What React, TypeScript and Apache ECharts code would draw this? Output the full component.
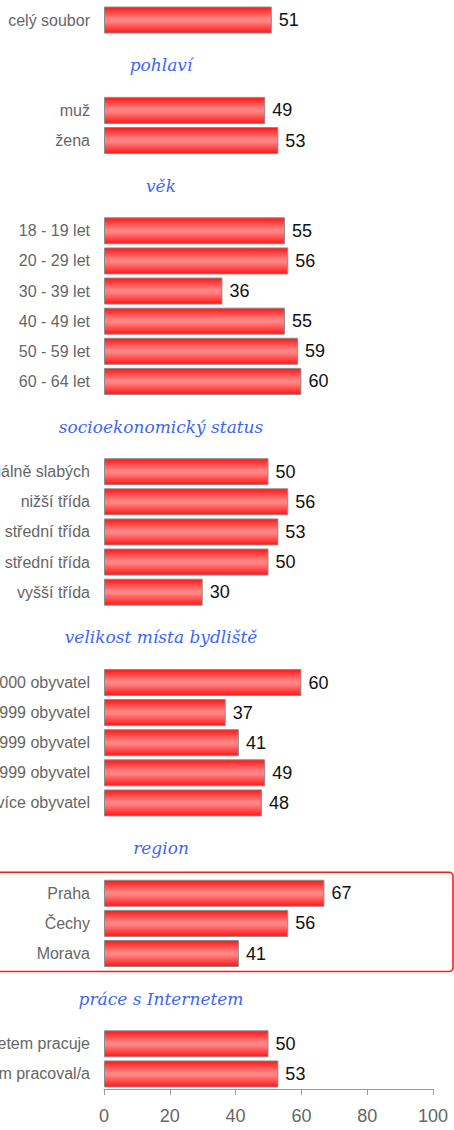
import React, { useEffect, useRef } from "react";
import * as echarts from "echarts";

const overallLabels = ["celý soubor"];
const overallValues = [51];
const genderLabels = ["muž", "žena"];
const genderValues = [49, 53];
const ageLabels = ["18 - 19 let", "20 - 29 let", "30 - 39 let", "40 - 49 let", "50 - 59 let", "60 - 64 let"];
const ageValues = [55, 56, 36, 55, 59, 60];
const statusLabels = ["sociálně slabých", "nižší třída", "nižší střední třída", "vyšší střední třída", "vyšší třída"];
const statusValues = [50, 56, 53, 50, 30];
const townLabels = ["do 1 000 obyvatel", "1 000 - 4 999 obyvatel", "5 000 - 19 999 obyvatel", "20 000 - 99 999 obyvatel", "100 000 a více obyvatel"];
const townValues = [60, 37, 41, 49, 48];
const regionLabels = ["Praha", "Čechy", "Morava"];
const regionValues = [67, 56, 41];
const internetLabels = ["s Internetem pracuje", "dříve s Internetem pracoval/a"];
const internetValues = [50, 53];
const sectionTitles = ["pohlaví", "věk", "socioekonomický status", "velikost místa bydliště", "region", "práce s Internetem"];
const xTicks = [0, 20, 40, 60, 80, 100];

const sections = [
  { labels: overallLabels, values: overallValues },
  { labels: genderLabels, values: genderValues },
  { labels: ageLabels, values: ageValues },
  { labels: statusLabels, values: statusValues },
  { labels: townLabels, values: townValues },
  { labels: regionLabels, values: regionValues },
  { labels: internetLabels, values: internetValues },
];

const categories: string[] = [];
const seriesData: (number | string)[] = [];
const headerSlots: number[] = [];
let regionStart = 0;
let regionEnd = 0;
sections.forEach((s, si) => {
  if (si > 0) {
    headerSlots.push(categories.length);
    categories.push("", "");
    seriesData.push("-", "-");
  }
  if (s.labels === regionLabels) regionStart = categories.length;
  s.labels.forEach((l, i) => {
    categories.push(l);
    seriesData.push(s.values[i]);
  });
  if (s.labels === regionLabels) regionEnd = categories.length - 1;
});

export default function App() {
  const ref = useRef<HTMLDivElement>(null);
  useEffect(() => {
    if (!ref.current) return;
    const chart = echarts.init(ref.current, null, { renderer: "svg" });
    const sans = "Liberation Sans, Arial, sans-serif";
    chart.setOption({
      animation: false,
      grid: { left: 104, right: 21, top: 5, bottom: 41, containLabel: false, outerBoundsMode: "none" },
      xAxis: {
        type: "value",
        min: xTicks[0],
        max: xTicks[xTicks.length - 1],
        interval: 20,
        splitLine: { show: false },
        axisLine: { show: true, lineStyle: { color: "#9a9a9a", width: 1 } },
        axisTick: { show: true, length: 6, lineStyle: { color: "#9a9a9a" } },
        axisLabel: { color: "#666", fontSize: 18, fontFamily: sans, margin: 18 },
      },
      yAxis: {
        type: "category",
        inverse: true,
        data: categories,
        axisLine: { show: false },
        axisTick: { show: false },
        splitLine: { show: false },
        axisLabel: { interval: 0, color: "#666", fontSize: 16, fontFamily: sans, margin: 14 },
      },
      series: [
        {
          type: "bar",
          data: seriesData,
          barWidth: 27,
          itemStyle: {
            color: new echarts.graphic.LinearGradient(0, 0, 0, 1, [
              { offset: 0, color: "#ff1616" },
              { offset: 0.45, color: "#ff8484" },
              { offset: 0.55, color: "#ff8484" },
              { offset: 1, color: "#ff1616" },
            ]),
            borderColor: "#8c8c8c",
            borderWidth: 1,
          },
          label: {
            show: true,
            position: "right",
            distance: 7,
            color: "#111",
            fontSize: 18,
            fontFamily: sans,
          },
        },
      ],
    });

    const py = (i: number) => chart.convertToPixel({ yAxisIndex: 0 }, i) as number;
    const slot = py(1) - py(0);
    const graphics: any[] = headerSlots.map((idx, k) => ({
      type: "text",
      x: 161,
      y: (py(idx) + py(idx + 1)) / 2,
      style: {
        text: sectionTitles[k],
        fill: "#3d66f5",
        font: "italic 17px DejaVu Serif, Liberation Serif, serif",
        textAlign: "center",
        textVerticalAlign: "middle",
      },
    }));
    const top = py(regionStart) - slot / 2 - 6;
    const bottom = py(regionEnd) + slot / 2 + 3;
    graphics.push({
      type: "rect",
      shape: { x: -10, y: top, width: 463, height: bottom - top, r: 4 },
      style: { fill: "none", stroke: "#ff1a1a", lineWidth: 1.6 },
      silent: true,
    });
    chart.setOption({ graphic: graphics });

    return () => chart.dispose();
  }, []);
  return <div ref={ref} style={{ position: "absolute", left: 0, top: 0, width: 454, height: 1130 }} />;
}
